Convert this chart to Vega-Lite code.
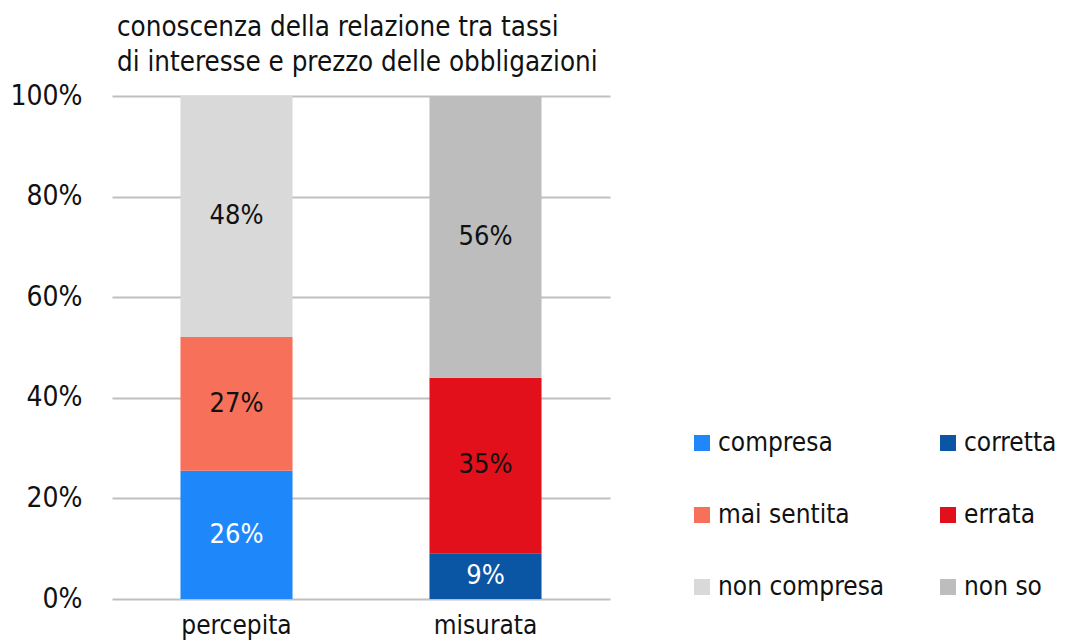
{
  "$schema": "https://vega.github.io/schema/vega-lite/v6.json",
  "width": 498,
  "height": 503,
  "autosize": {"type": "none"},
  "padding": {"left": 112, "top": 96, "right": 455, "bottom": 43},
  "background": "white",
  "config": {
    "font": "DejaVu Sans Condensed, Roboto Condensed, Roboto, sans-serif",
    "view": {"stroke": null}
  },
  "title": {
    "text": ["conoscenza della relazione tra tassi", "di interesse e prezzo delle obbligazioni"],
    "anchor": "start",
    "frame": "group",
    "dx": 5,
    "fontSize": 27.5,
    "fontWeight": "normal",
    "font": "DejaVu Sans Condensed, Roboto Condensed, Roboto, sans-serif",
    "color": "#111111",
    "lineHeight": 35,
    "offset": 6
  },
  "data": {
    "values": [
      {"cat": "percepita", "cls": "compresa", "value": 25.5, "label": "26%", "ord": 1},
      {"cat": "percepita", "cls": "mai sentita", "value": 26.6, "label": "27%", "ord": 2},
      {"cat": "percepita", "cls": "non compresa", "value": 47.9, "label": "48%", "ord": 3},
      {"cat": "misurata", "cls": "corretta", "value": 9.1, "label": "9%", "ord": 1},
      {"cat": "misurata", "cls": "errata", "value": 34.9, "label": "35%", "ord": 2},
      {"cat": "misurata", "cls": "non so", "value": 56.0, "label": "56%", "ord": 3}
    ]
  },
  "transform": [
    {"stack": "value", "groupby": ["cat"], "sort": [{"field": "ord", "order": "ascending"}], "as": ["v0", "v1"]},
    {"calculate": "(datum.v0 + datum.v1) / 2", "as": "mid"}
  ],
  "encoding": {
    "x": {
      "field": "cat",
      "type": "nominal",
      "sort": ["percepita", "misurata"],
      "scale": {"paddingInner": 0.55, "paddingOuter": 0.275},
      "axis": {
        "title": null,
        "labelAngle": 0,
        "labelFontSize": 26,
        "labelColor": "#111111",
        "labelPadding": 13,
        "ticks": false,
        "domain": false
      }
    }
  },
  "layer": [
    {
      "mark": {"type": "bar"},
      "encoding": {
        "y": {
          "field": "v0",
          "type": "quantitative",
          "scale": {"domain": [0, 100]},
          "axis": {
            "title": null,
            "values": [0, 20, 40, 60, 80, 100],
            "labelExpr": "datum.value + '%'",
            "labelFontSize": 28,
            "labelColor": "#111111",
            "labelPadding": 30,
            "ticks": false,
            "domain": false,
            "grid": true,
            "gridColor": "#BFBFBF",
            "gridWidth": 2
          }
        },
        "y2": {"field": "v1"},
        "color": {
          "field": "cls",
          "type": "nominal",
          "scale": {
            "domain": ["compresa", "mai sentita", "non compresa", "corretta", "errata", "non so"],
            "range": ["#1E88FA", "#F77059", "#D9D9D9", "#0B55A5", "#E2101A", "#BDBDBD"]
          },
          "legend": {
            "title": null,
            "orient": "none",
            "legendX": 577,
            "legendY": 334,
            "columns": 2,
            "columnPadding": 50,
            "rowPadding": 46,
            "symbolType": "square",
            "symbolSize": 256,
            "symbolStrokeWidth": 0,
            "labelFontSize": 26,
            "labelColor": "#111111",
            "labelOffset": 3,
            "labelLimit": 300
          }
        }
      }
    },
    {
      "mark": {"type": "text", "fontSize": 27, "baseline": "middle", "align": "center"},
      "encoding": {
        "y": {"field": "mid", "type": "quantitative"},
        "text": {"field": "label"},
        "color": {
          "condition": {"test": "datum.cls === 'compresa' || datum.cls === 'corretta'", "value": "#FFFFFF"},
          "value": "#111111"
        }
      }
    }
  ]
}
